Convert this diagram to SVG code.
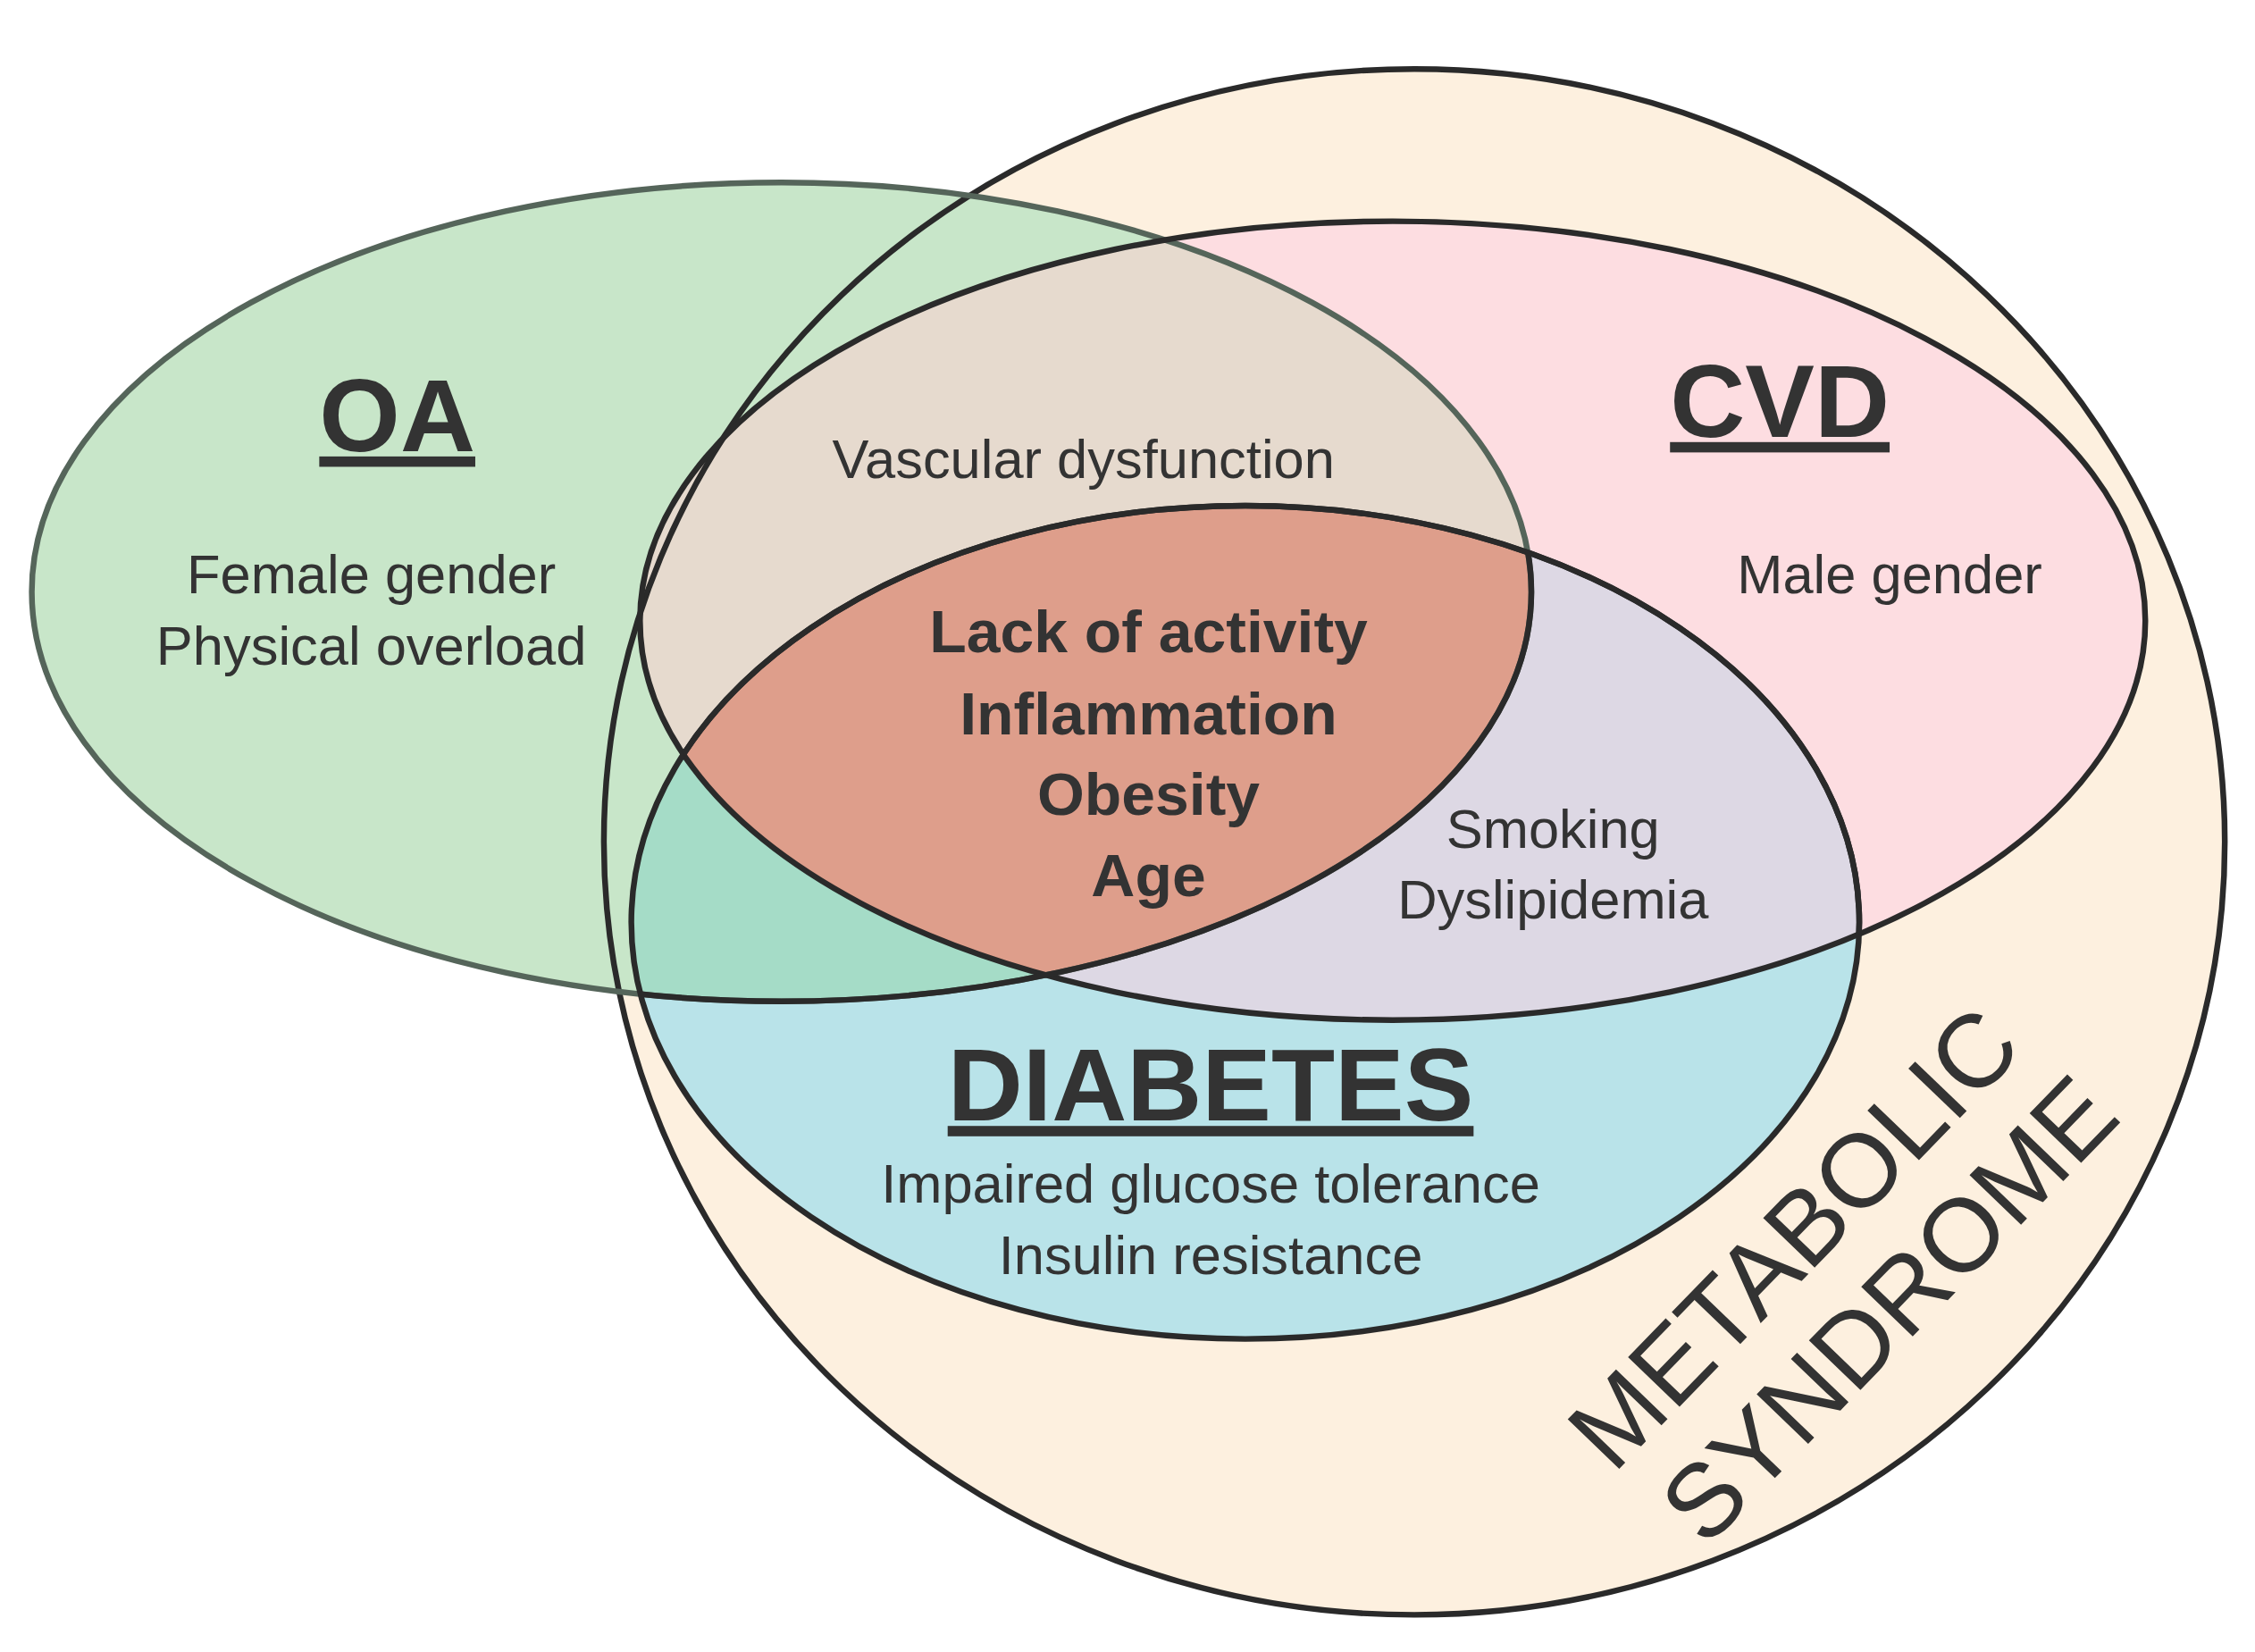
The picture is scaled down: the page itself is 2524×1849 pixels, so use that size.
<svg xmlns="http://www.w3.org/2000/svg" width="2524" height="1849" viewBox="0 0 2524 1849">
<style>
.t{font-family:"Liberation Sans",Arial,sans-serif;fill:#333;text-anchor:middle}
.r{font-size:38px}
.b{font-size:42px;font-weight:bold}
.h{font-size:72px;font-weight:bold;text-decoration:underline}
.s{fill:none;stroke:#2a2a2a;stroke-width:4}
</style>
<defs>
<clipPath id="cOA"><ellipse cx="541" cy="412" rx="519" ry="285"/></clipPath>
<clipPath id="cCVD"><ellipse cx="964" cy="432" rx="521" ry="278"/></clipPath>
<clipPath id="cDM"><ellipse cx="862" cy="642" rx="425" ry="290"/></clipPath>
</defs>
<rect width="2524" height="1849" fill="#fff"/>
<g transform="scale(1.617,1.608)">
<g id="metabolic">
<ellipse cx="979" cy="586" rx="561" ry="538" fill="#fdf0df"/>
</g>
<g id="oa"><ellipse cx="541" cy="412" rx="519" ry="285" fill="#c8e6c9"/></g>
<g id="cvd"><ellipse cx="964" cy="432" rx="521" ry="278" fill="#fddde1"/></g>
<g id="diabetes"><ellipse cx="862" cy="642" rx="425" ry="290" fill="#b9e3e9"/></g>
<g id="overlaps">
<ellipse cx="964" cy="432" rx="521" ry="278" fill="#e6dace" clip-path="url(#cOA)"/>
<ellipse cx="862" cy="642" rx="425" ry="290" fill="#ddd8e4" clip-path="url(#cCVD)"/>
<ellipse cx="862" cy="642" rx="425" ry="290" fill="#a5dcc7" clip-path="url(#cOA)"/>
<g clip-path="url(#cCVD)"><ellipse cx="862" cy="642" rx="425" ry="290" fill="#de9e8b" clip-path="url(#cOA)"/></g>
</g>
<g id="connectors">
<ellipse class="s" cx="979" cy="586" rx="561" ry="538"/>
<ellipse class="s" cx="541" cy="412" rx="519" ry="285" stroke="#5c6b60" style="stroke:#55655a"/>
<ellipse class="s" cx="964" cy="432" rx="521" ry="278"/>
<ellipse class="s" cx="862" cy="642" rx="425" ry="290"/>
<g clip-path="url(#cDM)"><ellipse class="s" cx="541" cy="412" rx="519" ry="285"/></g>
<g clip-path="url(#cCVD)"><ellipse class="s" cx="862" cy="642" rx="425" ry="290" style="stroke:#2a2a2a"/></g>
</g>
<g id="labels">
<text class="t h" x="275" y="314">OA</text>
<text class="t h" x="1232" y="304">CVD</text>
<text class="t h" x="838" y="780">DIABETES</text>
<text class="t r" x="257" y="413">Female gender</text>
<text class="t r" x="257" y="463">Physical overload</text>
<text class="t r" x="750" y="333">Vascular dysfunction</text>
<text class="t r" x="1308" y="413">Male gender</text>
<text class="t r" x="1075" y="590">Smoking</text>
<text class="t r" x="1075" y="639">Dyslipidemia</text>
<text class="t r" x="838" y="837">Impaired glucose tolerance</text>
<text class="t r" x="838" y="887">Insulin resistance</text>
<text class="t b" x="795" y="454">Lack of activity</text>
<text class="t b" x="795" y="511">Inflammation</text>
<text class="t b" x="795" y="567">Obesity</text>
<text class="t b" x="795" y="624">Age</text>
<g transform="translate(1275,880) rotate(-46)">
<text class="t" style="font-size:72px" x="-10" y="-12">METABOLIC</text>
<text class="t" style="font-size:72px" x="0" y="70">SYNDROME</text>
</g>
</g>
</g>
</svg>
